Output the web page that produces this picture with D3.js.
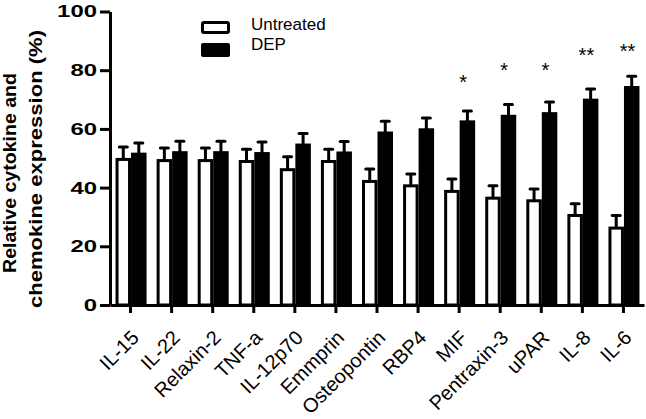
<!DOCTYPE html>
<html>
<head>
<meta charset="utf-8">
<script src="https://cdn.jsdelivr.net/npm/d3@7"></script>
<style>
  html, body { margin: 0; padding: 0; background: #fff; }
  svg { display: block; }
  text { font-family: "Liberation Sans", Arial, sans-serif; fill: #000; }
</style>
</head>
<body>
<svg id="chart" width="646" height="419"></svg>
<script>
const categories = ["IL-15","IL-22","Relaxin-2","TNF-a","IL-12p70","Emmprin","Osteopontin","RBP4","MIF","Pentraxin-3","uPAR","IL-8","IL-6"];
const series = ["Untreated", "DEP"];
const untreated    = [49.6, 49.2, 49.2, 48.9, 46.1, 48.9, 42.1, 40.6, 38.7, 36.4, 35.5, 30.5, 26.2];
const untreatedErr = [4.2, 4.3, 4.3, 4.2, 4.4, 4.2, 4.2, 4.0, 4.2, 4.2, 4.0, 4.0, 4.3];
const dep          = [51.4, 51.9, 51.9, 51.6, 54.5, 51.8, 58.6, 59.7, 62.4, 64.3, 65.2, 69.8, 74.1];
const depErr       = [3.8, 3.9, 3.9, 3.9, 3.9, 3.9, 4.0, 4.0, 3.7, 4.0, 4.0, 3.8, 3.8];
const sigMarks     = ["", "", "", "", "", "", "", "", "*", "*", "*", "**", "**"];
const sigLevels    = [null, null, null, null, null, null, null, null, 77.5, 81.4, 81.4, 86.6, 88.0];
const yTicks = [0, 20, 40, 60, 80, 100];
const yTitle = ["Relative cytokine and", "chemokine expression (%)"];

const svg = d3.select("#chart");

const x = d3.scaleBand().domain(categories).range([110, 644]).padding(0);
const xSub = d3.scaleBand().domain(series).range([-15, 16]).padding(0);
const y = d3.scaleLinear().domain([0, 100]).range([305, 11.5]);
const cx = c => x(c) + x.bandwidth() / 2;

// bars
const g = svg.append("g");
categories.forEach((c, i) => {
  const xc = cx(c);
  // untreated (white, outlined)
  const ux = xc + xSub("Untreated");
  const uw = xSub.bandwidth();
  g.append("rect")
    .attr("x", ux + 1.5).attr("y", y(untreated[i]))
    .attr("width", uw - 3).attr("height", y(0) - y(untreated[i]))
    .attr("fill", "#fff").attr("stroke", "#000").attr("stroke-width", 3);
  // untreated error bar
  const um = ux + uw / 2;
  g.append("line").attr("x1", um).attr("x2", um)
    .attr("y1", y(untreated[i])).attr("y2", y(untreated[i] + untreatedErr[i]))
    .attr("stroke", "#000").attr("stroke-width", 3);
  g.append("line").attr("x1", um - 4).attr("x2", um + 4)
    .attr("y1", y(untreated[i] + untreatedErr[i])).attr("y2", y(untreated[i] + untreatedErr[i]))
    .attr("stroke", "#000").attr("stroke-width", 3).attr("stroke-linecap", "round");

  // DEP (black)
  const dx = xc + xSub("DEP");
  const dw = xSub.bandwidth();
  g.append("rect")
    .attr("x", dx).attr("y", y(dep[i]) - 1.5)
    .attr("width", dw).attr("height", y(0) - y(dep[i]) + 1.5)
    .attr("fill", "#000");
  const dm = dx + dw / 2;
  g.append("line").attr("x1", dm).attr("x2", dm)
    .attr("y1", y(dep[i])).attr("y2", y(dep[i] + depErr[i]))
    .attr("stroke", "#000").attr("stroke-width", 3);
  g.append("line").attr("x1", dm - 4).attr("x2", dm + 4)
    .attr("y1", y(dep[i] + depErr[i])).attr("y2", y(dep[i] + depErr[i]))
    .attr("stroke", "#000").attr("stroke-width", 3).attr("stroke-linecap", "round");

  // significance marks
  if (sigMarks[i]) {
    svg.append("text")
      .attr("x", xc + 4).attr("y", y(sigLevels[i]) + 11.3)
      .attr("text-anchor", "middle")
      .style("font-size", "20px")
      .text(sigMarks[i]);
  }
});

// y axis
const yAxis = svg.append("g").attr("transform", "translate(110,0)")
  .call(d3.axisLeft(y).tickValues(yTicks).tickSize(10).tickSizeOuter(0).tickPadding(3));
yAxis.select(".domain").attr("stroke", "#000").attr("stroke-width", 3);
yAxis.selectAll(".tick line").attr("stroke", "#000").attr("stroke-width", 3);
yAxis.selectAll(".tick text")
  .style("font-size", "17px").style("font-weight", "bold")
  .attr("font-family", "Liberation Sans, Arial, sans-serif")
  .attr("textLength", d => String(d).length * 13.3)
  .attr("lengthAdjust", "spacingAndGlyphs");

// x axis
const xAxis = svg.append("g").attr("transform", "translate(0,305)")
  .call(d3.axisBottom(x).tickSize(8).tickSizeOuter(0));
xAxis.select(".domain").attr("stroke", "#000").attr("stroke-width", 3);
xAxis.selectAll(".tick line").attr("stroke", "#000").attr("stroke-width", 3);
xAxis.selectAll(".tick text")
  .style("font-size", "20px")
  .attr("font-family", "Liberation Sans, Arial, sans-serif")
  .attr("text-anchor", "end")
  .attr("dy", null)
  .attr("y", null)
  .attr("transform", "translate(9.5,34) rotate(-45)");

// y title
svg.append("text")
  .attr("transform", "translate(16,173) rotate(-90)")
  .attr("text-anchor", "middle")
  .style("font-size", "18px").style("font-weight", "bold")
  .attr("textLength", 200).attr("lengthAdjust", "spacingAndGlyphs")
  .text(yTitle[0]);
svg.append("text")
  .attr("transform", "translate(42,169) rotate(-90)")
  .attr("text-anchor", "middle")
  .style("font-size", "18px").style("font-weight", "bold")
  .attr("textLength", 278).attr("lengthAdjust", "spacingAndGlyphs")
  .text(yTitle[1]);

// legend
const leg = svg.append("g");
leg.append("rect").attr("x", 202.5).attr("y", 22.5).attr("width", 26).attr("height", 10)
  .attr("rx", 1.5).attr("fill", "#fff").attr("stroke", "#000").attr("stroke-width", 3);
leg.append("rect").attr("x", 201).attr("y", 43).attr("width", 29).attr("height", 14)
  .attr("rx", 2).attr("fill", "#000");
leg.append("text").attr("x", 251).attr("y", 30).style("font-size", "17px").text(series[0]);
leg.append("text").attr("x", 251).attr("y", 50).style("font-size", "17px").text(series[1]);
</script>
</body>
</html>
